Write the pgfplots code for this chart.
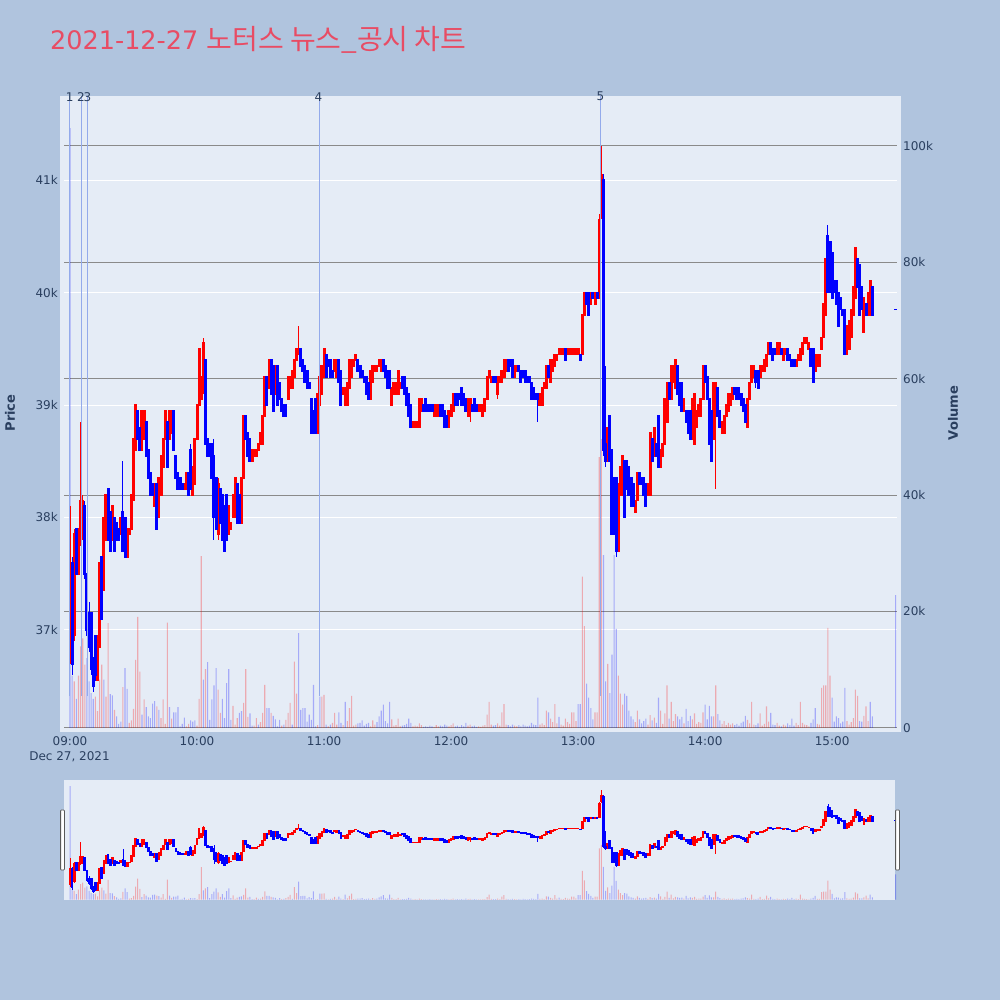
\documentclass[border=0pt]{standalone}
\usepackage{fontspec}
\setmainfont{DejaVu Sans}
\newfontfamily\krfont{Noto Sans CJK KR}
\usepackage{pgfplots}
\pgfplotsset{compat=1.18}
\usepackage{pgfplotstable}
\definecolor{pagebg}{HTML}{B0C4DE}
\definecolor{plotbg}{HTML}{E5ECF6}
\definecolor{axtext}{HTML}{2A3F5F}
\definecolor{titlec}{HTML}{E84C64}
\definecolor{evline}{RGB}{147,170,235}
\definecolor{vgrid}{HTML}{8A8A8A}
\definecolor{upc}{HTML}{FF0000}
\definecolor{dnc}{HTML}{0000FF}

% minute index (0 = 09:00), open, close, volume (thousands), volume colour (1 red / 0 blue)
\pgfplotstableread{
m o c v vd
0 36800 37600 103 0
1 37600 36700 9 0
2 36950 37850 8 1
3 37900 37500 5 0
4 37500 37900 9 1
5 37800 38150 14 1
6 37850 38150 15.4 1
7 38100 37500 10.9 1
8 37500 37000 12 0
9 37150 36850 8 0
10 37150 36650 6 0
11 36750 36500 5 0
12 36950 36600 5.4 1
13 36550 36950 2.9 1
14 36850 37600 8.3 1
15 37650 37100 10.9 1
16 37350 38000 8.3 0
17 37800 38200 5.4 1
18 38250 37800 18 1
19 38050 37700 5.8 0
20 37800 38100 5.6 0
21 38000 37700 3.1 1
22 37950 37800 2 0
23 37900 37800 0.7 0
24 37850 38000 1.1 0
25 38050 37700 7 1
26 38000 37650 10.3 0
27 37650 37900 6.7 0
28 37850 37900 0.9 1
29 37900 38200 1.3 1
30 38150 38700 3.3 1
31 38600 39000 11.7 1
32 38950 38700 19.1 1
33 38800 38600 9.7 1
34 38600 38950 2.3 0
35 38700 38950 4.9 1
36 38850 38550 3.6 0
37 38600 38350 2 0
38 38400 38200 1.7 0
39 38300 38200 4.2 0
40 38100 38300 4.6 0
41 38300 37900 3.7 1
42 38000 38350 3.1 0
43 38200 38550 1.7 1
44 38450 38700 4.9 1
45 38700 38950 0.7 1
46 38850 38450 18.1 1
47 38700 38950 3.6 0
48 38750 38950 1.6 1
49 38950 38600 2.7 0
50 38550 38350 2.7 0
51 38400 38250 3.6 0
52 38350 38250 0.3 0
53 38300 38250 0.7 0
54 38250 38300 1.8 0
55 38250 38400 0.3 1
56 38400 38200 0.7 1
57 38600 38250 1.3 0
58 38200 38450 1.1 0
59 38300 38700 1.3 0
60 38700 39000 0.4 1
61 39000 39500 5 1
62 39050 39250 29.5 1
63 39150 39550 8.3 0
64 39400 38650 10.1 1
65 38700 38550 11.3 0
66 38650 38550 1.4 0
67 38650 38350 4.9 0
68 38550 38000 7.3 0
69 38350 37900 10.3 0
70 37850 38300 6.6 1
71 38250 37950 2.6 1
72 38200 37800 5 0
73 38100 37700 1.7 0
74 38200 37800 7.7 0
75 37850 38100 10.1 0
76 37900 37950 1.4 0
77 38000 38200 3.8 1
78 38000 38350 0.6 1
79 38300 37950 1.7 1
80 38200 37950 2.6 0
81 37950 38350 2.9 0
82 38350 38900 4.3 1
83 38900 38700 10.1 1
84 38750 38550 1.9 1
85 38700 38500 2.5 0
86 38500 38600 0.4 0
87 38550 38600 0.4 1
88 38550 38600 1.7 1
89 38600 38650 0.6 0
90 38650 38750 1 1
91 38650 38900 2.6 1
92 38900 39250 7.4 1
93 39250 39000 3.4 0
94 39150 39400 3.4 0
95 39400 39100 2.6 1
96 39350 38950 2.1 0
97 39100 39350 1.5 0
98 39350 39000 0.3 0
99 39200 39050 1.4 0
100 39050 38950 0.4 1
101 39000 38900 0.6 0
102 39000 38900 1.4 1
103 39050 39250 2.6 1
104 39150 39250 4.3 1
105 39150 39300 0.6 0
106 39250 39400 11.4 1
107 39400 39500 5.9 1
108 39450 39500 16.3 0
109 39500 39350 3.1 0
110 39400 39300 3.4 0
111 39350 39200 3.4 0
112 39300 39150 1.1 0
113 39200 39150 2.3 0
114 39050 38750 1.4 0
115 38950 38750 7.4 0
116 39050 38750 0.3 0
117 38750 39100 0.5 1
118 39000 39250 5.4 0
119 39100 39350 5.4 1
120 39250 39500 5.7 1
121 39450 39250 0.6 0
122 39400 39350 0.3 1
123 39400 39250 0.6 0
124 39300 39250 0.9 1
125 39300 39400 2.6 1
126 39250 39400 0.6 1
127 39400 39200 2.7 0
128 39300 39000 0.9 0
129 39100 39150 0.5 1
130 39000 39150 4.5 0
131 39000 39200 1.2 1
132 39150 39400 3.4 1
133 39250 39400 5.5 1
134 39350 39400 0.4 1
135 39400 39450 0.6 1
136 39400 39300 0.8 0
137 39350 39250 0.9 0
138 39300 39250 1.3 0
139 39250 39200 0.4 0
140 39250 39100 0.7 0
141 39200 39050 0.9 0
142 39050 39300 0.3 1
143 39200 39350 1.3 1
144 39300 39350 0.6 1
145 39300 39350 1 0
146 39350 39400 2 0
147 39300 39400 3 0
148 39400 39300 4 0
149 39350 39250 1.2 0
150 39300 39150 0.8 0
151 39300 39150 4.5 0
152 39000 39150 1.5 1
153 39100 39200 0.4 1
154 39100 39200 0.5 1
155 39100 39300 1.6 1
156 39150 39200 0.3 1
157 39250 39150 0.4 0
158 39250 39100 0.5 0
159 39150 39000 0.7 0
160 39100 38900 1.6 0
161 39000 38800 0.9 0
162 38800 38850 0.3 1
163 38800 38850 0.4 1
164 38800 38850 0.3 1
165 38800 39050 0.8 1
166 38950 39050 0.5 1
167 39000 38950 0.2 0
168 39050 38950 0.3 0
169 39000 38950 0.2 0
170 39000 38950 0.4 0
171 39000 38950 0.3 0
172 38900 39000 0.2 1
173 38900 39000 0.5 1
174 38900 39000 0.3 1
175 39000 38900 0.4 0
176 39000 38900 0.3 0
177 38950 38800 0.6 0
178 38900 38800 0.4 0
179 38800 38950 0.3 1
180 38900 39000 0.5 1
181 38950 39100 0.8 1
182 39100 39000 0.3 0
183 39100 39000 0.4 0
184 39100 39050 0.2 0
185 39150 39000 0.5 0
186 39100 39000 0.3 0
187 39050 38950 0.9 0
188 38900 39050 0.4 1
189 38950 39050 0.6 1
190 39000 38950 0.3 0
191 39050 38950 0.4 0
192 39000 38950 0.2 0
193 38950 39000 0.3 1
194 38950 39000 0.2 1
195 38900 39000 0.4 1
196 38950 39050 0.5 1
197 39050 39250 2.3 1
198 39250 39300 4.5 1
199 39200 39250 0.6 1
200 39250 39200 0.4 0
201 39250 39200 0.5 0
202 39100 39250 0.8 1
203 39200 39250 0.4 1
204 39200 39300 2.7 1
205 39250 39400 4.1 1
206 39300 39400 0.6 1
207 39400 39300 0.5 0
208 39400 39350 0.3 0
209 39400 39250 0.6 0
210 39250 39350 0.4 1
211 39300 39350 0.3 1
212 39350 39300 0.5 0
213 39300 39200 0.3 0
214 39300 39250 0.6 0
215 39300 39200 0.4 0
216 39250 39200 0.3 0
217 39250 39200 0.4 0
218 39200 39050 0.9 0
219 39150 39050 0.6 0
220 39100 39050 0.5 0
221 39100 39050 5.2 0
222 39000 39100 0.6 1
223 39000 39150 0.8 1
224 39150 39200 0.5 1
225 39150 39350 3 1
226 39350 39250 2.7 0
227 39200 39400 1.6 1
228 39300 39400 1 1
229 39350 39450 4.1 1
230 39400 39450 0.8 1
231 39450 39500 1.9 0
232 39450 39500 0.6 1
233 39450 39500 0.4 1
234 39500 39400 1.6 1
235 39450 39500 1 1
236 39450 39500 0.7 1
237 39450 39500 2.7 1
238 39450 39500 2.7 1
239 39450 39500 1.2 1
240 39450 39500 4.1 0
241 39450 39400 4.1 0
242 39450 39800 26 1
243 39800 40000 17.5 1
244 40000 39900 7.6 0
245 40000 39800 5.2 0
246 39900 40000 3.4 0
247 40000 39950 1.5 0
248 39900 40000 2.7 1
249 40000 39950 2.7 1
250 39950 40650 46.5 1
251 40700 41050 49.6 1
252 41000 38600 29.7 0
253 38650 38500 8 0
254 38500 38800 11 1
255 38900 38500 6 0
256 38600 37850 12.6 0
257 38350 37850 29.7 0
258 38350 37700 17 0
259 37700 38300 9 1
260 38200 38450 5.9 1
261 38200 38550 4 1
262 38500 38000 5.9 0
263 38500 38250 5.5 0
264 38450 38200 3 0
265 38350 38100 2 0
266 38300 38100 1.5 0
267 38050 38150 1 1
268 38150 38400 3 1
269 38400 38300 1.5 0
270 38350 38300 0.8 0
271 38350 38200 1.2 0
272 38300 38100 1.6 0
273 38200 38300 0.6 1
274 38200 38750 2.2 1
275 38700 38500 1.3 0
276 38550 38800 1.8 1
277 38650 38550 0.9 0
278 38900 38450 5.2 0
279 38450 38600 3 1
280 38550 38650 0.7 1
281 38650 39050 2.5 1
282 38850 39200 7.3 1
283 39200 39050 1.6 0
284 39050 39350 4.5 1
285 39200 39350 1.2 1
286 39150 39400 2.4 1
287 39350 39100 2 0
288 39200 39000 1.5 0
289 39200 38950 1.9 0
290 38950 39050 0.8 1
291 38950 38850 3.3 0
292 38950 38750 1.2 0
293 38950 38700 2.1 0
294 38700 39050 1.5 1
295 38650 39100 2.5 1
296 38800 38950 0.7 1
297 38900 39000 1 1
298 38900 39050 0.9 1
299 39050 39350 2.7 1
300 39350 39200 4 0
301 39250 39050 1.5 0
302 39050 38650 3.8 0
303 38950 38500 2 0
304 38700 39200 2 1
305 38950 39200 7.3 1
306 39150 38900 2.4 0
307 38950 38800 1.3 0
308 38750 38850 0.7 1
309 38750 38900 1.2 1
310 38900 39000 0.5 1
311 38950 39100 0.9 1
312 39000 39100 0.6 1
313 39050 39150 0.8 1
314 39150 39100 0.5 0
315 39150 39050 0.7 0
316 39150 39050 0.4 0
317 39100 39000 0.9 0
318 39050 38950 1.1 0
319 39000 38850 2.1 0
320 38800 39050 1.4 1
321 39050 39200 0.8 1
322 39200 39350 4.5 1
323 39250 39350 0.6 1
324 39300 39200 0.5 0
325 39300 39150 0.8 0
326 39250 39350 2.5 1
327 39300 39350 0.4 1
328 39300 39400 0.7 1
329 39350 39450 3.7 1
330 39450 39550 1.1 1
331 39550 39450 2.6 0
332 39500 39400 0.6 0
333 39500 39450 0.5 0
334 39450 39550 0.9 1
335 39450 39550 0.4 1
336 39500 39450 0.3 0
337 39400 39500 0.6 1
338 39450 39500 0.4 1
339 39500 39400 0.8 0
340 39450 39400 0.5 0
341 39400 39350 1.6 0
342 39400 39350 0.4 0
343 39350 39400 0.9 1
344 39400 39450 0.5 1
345 39400 39500 4.5 1
346 39450 39550 0.9 1
347 39550 39600 0.6 1
348 39550 39600 0.5 1
349 39500 39550 0.3 1
350 39500 39350 0.9 0
351 39500 39200 1.5 0
352 39300 39450 3.4 0
353 39350 39450 0.7 1
354 39350 39450 0.6 1
355 39500 39600 6.9 1
356 39600 39900 7.3 1
357 39800 40300 7.3 1
358 40500 40000 17.2 1
359 40450 40000 9 1
360 40350 39950 5.2 0
361 40100 40000 1.1 0
362 40100 39900 2 0
363 40000 39700 1.7 0
364 39950 39850 0.8 0
365 39850 39800 1.1 0
366 39850 39450 6.9 0
367 39450 39700 1.2 1
368 39500 39750 0.6 1
369 39600 39850 1 1
370 39800 40050 1.7 1
371 39950 40400 6.6 1
372 40300 40050 5.5 1
373 40250 39800 1.2 0
374 40050 39850 1.1 0
375 39650 39950 2.1 1
376 39900 39800 3.7 1
377 39800 40000 1.2 1
378 39800 40100 4.5 0
379 40050 39800 2 0
390 39850 39850 22.8 0
}\bars

% wicks that reach beyond the body: minute, high, low, colour (1 red / 0 blue)
\pgfplotstableread{
m h l d
0 38100 36700 1
1 37650 36600 0
2 37900 36900 1
5 38850 37750 1
6 38200 37800 1
7 38150 37450 0
8 37500 36950 0
9 37250 36800 0
10 37150 36600 0
11 36750 36450 0
12 36950 36550 0
25 38500 37700 0
57 38650 38250 0
63 39600 39100 1
68 38700 37800 0
70 38350 37800 1
108 39700 39450 1
189 39050 38850 1
202 39250 39050 1
221 39100 38850 0
250 40700 39950 1
251 41300 40650 1
252 41050 38550 0
253 39350 38450 0
255 38900 38500 0
258 38350 37650 0
305 39200 38250 1
324 39300 39150 0
358 40600 40000 0
}\wicks

\newcommand\tickfont{\fontsize{12}{14}\selectfont}

\pgfplotsset{
  errbar/.style={only marks, mark=*, mark size=0pt, mark options={draw=none, fill=none}},
}

\newcommand\candles[2]{%
  \addplot[upc, errbar, restrict expr to domain={\thisrow{d}}{0.5:1.5},
    error bars/.cd, y dir=both, y explicit, error mark=none,
    error bar style={line width=#2, upc}]
    table[x=m, y expr={(\thisrow{h}+\thisrow{l})/2}, y error expr={(\thisrow{h}-\thisrow{l})/2}] {\wicks};
  \addplot[dnc, errbar, restrict expr to domain={\thisrow{d}}{-0.5:0.5},
    error bars/.cd, y dir=both, y explicit, error mark=none,
    error bar style={line width=#2, dnc}]
    table[x=m, y expr={(\thisrow{h}+\thisrow{l})/2}, y error expr={(\thisrow{h}-\thisrow{l})/2}] {\wicks};
  \addplot[upc, errbar, restrict expr to domain={\thisrow{c}-\thisrow{o}}{1:100000},
    error bars/.cd, y dir=both, y explicit, error mark=none,
    error bar style={line width=#1, upc}]
    table[x=m, y expr={(\thisrow{o}+\thisrow{c})/2}, y error expr={abs(\thisrow{c}-\thisrow{o})/2+8}] {\bars};
  \addplot[dnc, errbar, restrict expr to domain={\thisrow{c}-\thisrow{o}}{-100000:0.5},
    error bars/.cd, y dir=both, y explicit, error mark=none,
    error bar style={line width=#1, dnc}]
    table[x=m, y expr={(\thisrow{o}+\thisrow{c})/2}, y error expr={abs(\thisrow{c}-\thisrow{o})/2+8}] {\bars};
}

\newcommand\volbars[1]{%
  \addplot[ybar, bar width=#1, bar shift=0pt, fill=upc, fill opacity=0.28, draw=none,
    restrict expr to domain={\thisrow{vd}}{0.5:1.5}] table[x=m, y=v] {\bars};
  \addplot[ybar, bar width=#1, bar shift=0pt, fill=dnc, fill opacity=0.28, draw=none,
    restrict expr to domain={\thisrow{vd}}{-0.5:0.5}] table[x=m, y=v] {\bars};
}

\pgfplotsset{
  layer/.style={scale only axis, anchor=south west, xmin=-2.834, clip=false, scaled ticks=false},
  mainsize/.style={at={(64pt,270pt)}, width=833pt, height=634pt, xmax=390.64},
  slidesize/.style={at={(64pt,100pt)}, width=831pt, height=120pt, xmax=389.7},
  pricey/.style={ymin=36110, ymax=41748},
  voly/.style={ymin=-0.343, ymax=108.52},
}

\begin{document}
\begin{tikzpicture}[x=1pt,y=1pt]
\fill[pagebg] (0,0) rectangle (1000,1000);
\fill[plotbg] (60,268) rectangle (901,904);
\fill[plotbg] (64,100) rectangle (895,220);

% title
\node[anchor=west, text=titlec, inner sep=0pt] at (50,960)
  {\fontsize{25.5}{30}\selectfont 2021-12-27 {\krfont\fontsize{28}{32}\selectfont 노터스 뉴스\_공시 차트}};

% price grid + left and bottom labels
\begin{axis}[layer, mainsize, pricey,
  axis line style={draw=none}, major tick length=0pt,
  ytick={37000,38000,39000,40000,41000}, yticklabels={37k,38k,39k,40k,41k},
  ymajorgrids, major grid style={white, line width=1pt},
  xtick={0,60,120,180,240,300,360},
  xticklabels={09:00,10:00,11:00,12:00,13:00,14:00,15:00},
  tick label style={font=\tickfont, text=axtext},
  yticklabel style={anchor=east, inner sep=0pt, xshift=-6pt},
  xticklabel style={anchor=center, inner sep=0pt, yshift=-11pt}]
\end{axis}

% volume grid, right labels and bars
\begin{axis}[layer, mainsize, voly,
  axis line style={draw=none}, major tick length=0pt, xtick=\empty,
  ytick={20,40,60,80,100}, yticklabels={20k,40k,60k,80k,100k},
  extra y ticks={0}, extra y tick labels={0},
  extra y tick style={grid style={white, line width=1pt}},
  yticklabel pos=right,
  ymajorgrids, major grid style={vgrid, line width=1pt},
  tick label style={font=\tickfont, text=axtext},
  yticklabel style={anchor=west, inner sep=0pt, xshift=6pt}]
\volbars{1.1pt}
\end{axis}

% candles and event lines
\begin{axis}[layer, mainsize, pricey, hide axis]
\candles{3pt}{1pt}
\addplot[evline, line width=1pt] coordinates {(-0.3,36412) (-0.3,41748)};
\addplot[evline, line width=1pt] coordinates {(5.3,36412) (5.3,41748)};
\addplot[evline, line width=1pt] coordinates {(8.2,36412) (8.2,41748)};
\addplot[evline, line width=1pt] coordinates {(117.8,36412) (117.8,41748)};
\addplot[evline, line width=1pt] coordinates {(250.7,36412) (250.7,41748)};
\node[font=\tickfont, text=axtext, inner sep=0pt] at (axis cs:-0.1,41742) {1};
\node[font=\tickfont, text=axtext, inner sep=0pt] at (axis cs:5.2,41742) {2};
\node[font=\tickfont, text=axtext, inner sep=0pt] at (axis cs:8.2,41742) {3};
\node[font=\tickfont, text=axtext, inner sep=0pt] at (axis cs:117.4,41742) {4};
\node[font=\tickfont, text=axtext, inner sep=0pt] at (axis cs:250.6,41742) {5};
\end{axis}

% axis titles and date
\node[rotate=90, font=\fontsize{13}{15}\selectfont\bfseries, text=axtext] at (10,587) {Price};
\node[rotate=90, font=\fontsize{13}{15}\selectfont\bfseries, text=axtext] at (953,587) {Volume};
\node[font=\tickfont, text=axtext] at (69.5,243) {Dec 27, 2021};

% range slider
\begin{axis}[layer, slidesize, voly, hide axis]
\volbars{1pt}
\end{axis}
\begin{axis}[layer, slidesize, pricey, hide axis]
\candles{2.7pt}{0.8pt}
\end{axis}
\draw[fill=white, draw=black!65, line width=0.8pt, rounded corners=0.8pt] (60.6,130) rectangle (64.4,190);
\draw[fill=white, draw=black!65, line width=0.8pt, rounded corners=0.8pt] (895.6,130) rectangle (899.4,190);
\end{tikzpicture}
\end{document}
